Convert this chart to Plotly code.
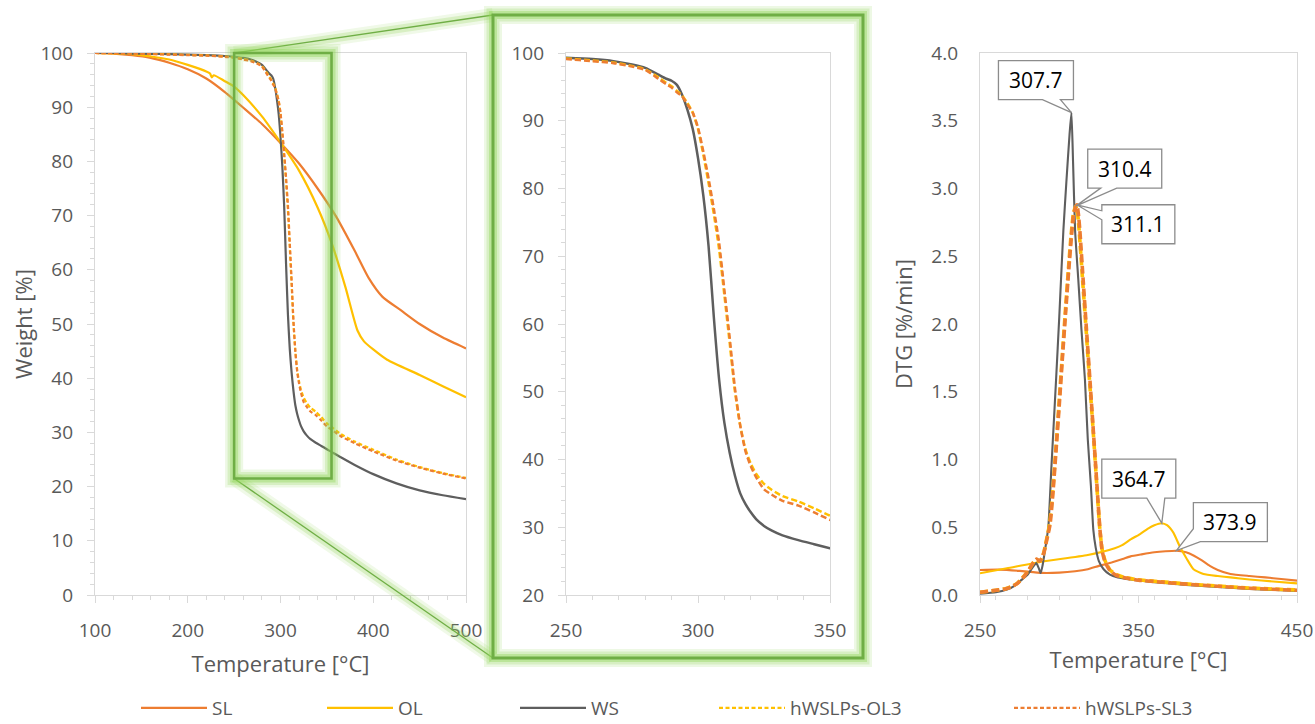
import numpy as np
import plotly.graph_objects as go

FONT = "Open Sans"

# ---------------- TGA data (Weight %) ----------------
T_sl = [100, 120, 140, 160, 180, 200, 220, 240, 260, 280, 300, 320, 340, 360, 380, 395, 410, 430, 450, 475, 500]
W_sl = [100, 99.9, 99.6, 99.1, 98.2, 97.0, 95.3, 92.8, 89.9, 86.9, 83.4, 79.6, 75.0, 69.8, 63.5, 58.5, 55.0, 52.5, 50.0, 47.5, 45.5]

T_ol = [100, 140, 180, 200, 220, 224, 226, 228, 240, 250, 260, 280, 300, 320, 340, 355, 370, 383, 390, 400, 415, 450, 475, 500]
W_ol = [100, 99.8, 98.8, 97.8, 96.6, 96.2, 95.5, 95.9, 94.8, 93.8, 92.2, 88.3, 83.5, 78.3, 71.5, 65.0, 56.8, 48.8, 46.8, 45.3, 43.4, 40.6, 38.5, 36.5]

T_tga = [100, 120, 140, 160, 180, 200, 220, 240, 250, 260, 268, 275, 280, 285, 288, 290,
         292, 294, 296, 298, 300, 302, 304, 306, 308, 310, 312, 314, 316, 318, 320, 322,
         325, 328, 332, 338, 344, 350, 355, 365, 380, 400, 425, 450, 475, 500]
W_ws = [100, 100.0, 99.9, 99.85, 99.8, 99.7, 99.6, 99.45, 99.3, 99.1, 98.8, 98.3, 97.8, 96.8, 96.2, 95.9,
        95.3, 93.8, 91.6, 88.8, 84.5, 79.0, 71.5, 61.0, 51.8, 45.4, 41.0, 37.6, 35.0, 33.4, 32.2, 31.2,
        30.2, 29.5, 28.8, 28.1, 27.5, 26.9, 26.4, 25.4, 24.0, 22.3, 20.6, 19.3, 18.4, 17.7]
W_ol3 = [100, 99.95, 99.9, 99.85, 99.75, 99.65, 99.55, 99.35, 99.2, 98.9, 98.6, 98.1, 97.6, 96.4, 95.6, 95.1,
         94.4, 93.7, 92.6, 91.2, 88.8, 85.0, 80.8, 76.2, 71.0, 64.2, 57.2, 50.0, 45.0, 41.5, 39.4, 37.9,
         36.4, 35.5, 34.6, 33.8, 32.8, 31.7, 31.0, 29.7, 28.3, 26.8, 25.0, 23.6, 22.5, 21.6]
W_sl3 = [100, 99.95, 99.9, 99.8, 99.7, 99.6, 99.5, 99.3, 99.1, 98.8, 98.5, 98.0, 97.5, 96.2, 95.4, 94.9,
         94.2, 93.6, 92.4, 91.2, 89.0, 85.5, 81.5, 77.0, 72.0, 65.0, 58.0, 50.5, 45.0, 41.2, 39.0, 37.4,
         35.6, 34.8, 33.9, 33.2, 32.2, 31.1, 30.5, 29.3, 28.0, 26.5, 24.8, 23.5, 22.4, 21.5]

# ---------------- DTG data (%/min) ----------------
T_d_sl = [250, 262, 275, 289, 300, 310, 318, 325, 333, 340, 345, 352, 360, 367, 373.9, 380, 385, 390, 395, 400, 408, 420, 430, 440, 450]
D_sl = [0.185, 0.187, 0.178, 0.163, 0.165, 0.175, 0.19, 0.215, 0.24, 0.265, 0.285, 0.30, 0.315, 0.323, 0.327, 0.315, 0.29, 0.255, 0.215, 0.185, 0.155, 0.14, 0.13, 0.118, 0.106]

T_d_ol = [250, 267, 289, 318, 335, 340, 345, 351, 356, 360, 364.7, 368, 372, 376, 380.5, 384.7, 391, 400, 408, 420, 435, 450]
D_ol = [0.16, 0.197, 0.246, 0.295, 0.345, 0.37, 0.41, 0.45, 0.49, 0.515, 0.53, 0.515, 0.46, 0.36, 0.266, 0.19, 0.155, 0.14, 0.13, 0.115, 0.10, 0.086]

T_d_ws = [250, 260, 267, 272, 276, 280, 283, 285.5, 287, 288.3, 289.5, 291, 293.1, 295, 296.5, 298, 300, 302.6,
          304.5, 306.5, 307.7, 308.7, 310, 312, 314, 316.2, 318, 320, 321.5, 323, 325, 328, 332, 337, 345,
          360, 380, 400, 420, 450]
D_ws = [0.01, 0.02, 0.04, 0.07, 0.11, 0.15, 0.2, 0.235, 0.2, 0.162, 0.22, 0.33, 0.5, 0.93, 1.26, 1.59, 2.05, 2.69,
        3.05, 3.40, 3.56, 3.2, 2.69, 2.33, 1.96, 1.59, 1.15, 0.80, 0.48, 0.35, 0.25, 0.19, 0.15, 0.13, 0.115,
        0.095, 0.075, 0.06, 0.045, 0.03]

T_d_ol3 = [250, 260, 266, 270, 274, 278, 281, 284, 285.6, 287.3, 289, 290.5, 292, 294, 296, 298, 300, 302, 304,
           306, 307.5, 309, 310.4, 311.5, 312.5, 315, 317, 319, 321, 323, 325.5, 327, 329, 332, 336, 342, 350,
           365, 380, 400, 420, 450]
D_ol3 = [0.02, 0.035, 0.047, 0.062, 0.092, 0.142, 0.19, 0.245, 0.262, 0.248, 0.27, 0.325, 0.41, 0.53, 0.78, 1.10,
         1.44, 1.78, 2.12, 2.44, 2.66, 2.82, 2.87, 2.82, 2.70, 2.28, 1.95, 1.60, 1.28, 0.93, 0.50, 0.34, 0.25,
         0.185, 0.15, 0.128, 0.112, 0.097, 0.082, 0.067, 0.052, 0.037]

T_d_sl3 = [250, 260, 266, 270, 274, 278, 281, 284, 285.8, 287.5, 289, 290.5, 292, 294.2, 296, 298, 300, 302, 304,
           306, 307.8, 309, 310.2, 311.1, 312, 313, 315, 317, 319.4, 321, 323, 325.7, 327, 329, 332, 336, 342,
           350, 365, 380, 400, 420, 450]
D_sl3 = [0.02, 0.035, 0.045, 0.06, 0.09, 0.14, 0.19, 0.245, 0.265, 0.25, 0.27, 0.32, 0.40, 0.52, 0.75, 1.07, 1.40,
         1.75, 2.08, 2.40, 2.66, 2.80, 2.86, 2.88, 2.82, 2.69, 2.34, 1.99, 1.58, 1.30, 0.95, 0.48, 0.33, 0.24,
         0.18, 0.145, 0.125, 0.11, 0.095, 0.08, 0.065, 0.05, 0.035]

# Peak temperatures labelled on the DTG panel
peak_labels = ["307.7", "310.4", "311.1", "364.7", "373.9"]
peak_T = [307.7, 310.4, 311.1, 364.7, 373.9]

names = ["SL", "OL", "WS", "hWSLPs-OL3", "hWSLPs-SL3"]
colors = ["#ED7D31", "#FFC000", "#5E5E5E", "#FFC000", "#ED7D31"]
dashed = [False, False, False, True, True]

tga = [(T_sl, W_sl), (T_ol, W_ol), (T_tga, W_ws), (T_tga, W_ol3), (T_tga, W_sl3)]
dtg = [(T_d_sl, D_sl), (T_d_ol, D_ol), (T_d_ws, D_ws), (T_d_ol3, D_ol3), (T_d_sl3, D_sl3)]

# ---------------- layout geometry (pixels) ----------------
W_FIG, H_FIG = 1315, 724
L, R, TOP, BOT = 95, 1297, 53, 595
PW, PH = R - L, BOT - TOP


def px_x(p):
    return (p - L) / PW


def px_y(p):
    return (BOT - p) / PH


dom1 = [px_x(95), px_x(466)]
dom2 = [px_x(566), px_x(830)]
dom3 = [px_x(980), px_x(1297)]

fig = go.Figure()

legend_ids = ["legend", "legend2", "legend3", "legend4", "legend5"]

for i in range(5):
    T, Wv = tga[i]
    fig.add_trace(go.Scatter(
        x=T, y=Wv, mode="lines", name=names[i], xaxis="x", yaxis="y",
        line=dict(color=colors[i], width=2.2, dash="4px,2.5px" if dashed[i] else "solid",
                  shape="spline", smoothing=0.6),
        showlegend=True, legend=legend_ids[i]))
for i in range(5):
    T, Wv = tga[i]
    if i < 2:
        continue
    fig.add_trace(go.Scatter(
        x=T, y=Wv, mode="lines", name=names[i], xaxis="x2", yaxis="y2",
        line=dict(color=colors[i], width=2.5, dash="6px,3px" if dashed[i] else "solid",
                  shape="spline", smoothing=0.6),
        showlegend=False))
for i in range(5):
    T, D = dtg[i]
    fig.add_trace(go.Scatter(
        x=T, y=D, mode="lines", name=names[i], xaxis="x3", yaxis="y3",
        line=dict(color=colors[i], width=3.6 if dashed[i] else 2.1,
                  dash="8px,3.5px" if dashed[i] else "solid",
                  shape="spline", smoothing=0.5),
        showlegend=False))

GRAY = "#D9D9D9"
TXT = "#595959"


def axis(domain, rng, dtick, minor_dtick, anchor, tick0, title=None, ticks=True, fmt=None,
         ylike=False, standoff=18):
    d = dict(domain=domain, range=rng, dtick=dtick, tick0=tick0, anchor=anchor,
             automargin=False,
             showline=True, linecolor=GRAY, linewidth=1.3, mirror=True,
             showgrid=False, zeroline=False,
             ticks="outside" if ticks else "", ticklen=7, tickwidth=1.3, tickcolor=GRAY,
             tickfont=dict(family=FONT, size=19, color=TXT),
             ticklabelstandoff=(10 if ticks else 17) if ylike else 11)
    if minor_dtick:
        d["minor"] = dict(ticks="outside", ticklen=4, tickwidth=1.1, tickcolor=GRAY,
                          dtick=minor_dtick, tick0=0, showgrid=False)
    if fmt:
        d["tickformat"] = fmt
    if title:
        d["title"] = dict(text=title, font=dict(family=FONT, size=22, color=TXT),
                          standoff=standoff)
    return d


fig.update_layout(
    width=W_FIG, height=H_FIG,
    margin=dict(l=L, r=W_FIG - R, t=TOP, b=H_FIG - BOT, autoexpand=False),
    paper_bgcolor="white", plot_bgcolor="white",
    font=dict(family=FONT, color=TXT),
    xaxis=axis(dom1, [100, 500], 100, 20, "y", 0, "Temperature [°C]", standoff=14),
    yaxis=axis([0, 1], [0, 100], 10, 2, "x", 0, "Weight [%]", ylike=True, standoff=1),
    xaxis2=axis(dom2, [250, 350], 50, 10, "y2", 0),
    yaxis2=axis([0, 1], [20, 100], 10, 2, "x2", 0, ylike=True),
    xaxis3=axis(dom3, [250, 450], 100, 20, "y3", 250, "Temperature [°C]", standoff=10),
    yaxis3=axis([0, 1], [0, 4], 0.5, None, "x3", 0, "DTG [%/min]", ticks=False, fmt=".1f",
                ylike=True, standoff=12),
    showlegend=True,
)

# ---------------- legends (five, spread along the bottom) ----------------
legend_px = [142, 328, 521, 720, 1015]
for i, lid in enumerate(legend_ids):
    fig.layout[lid] = dict(
        x=px_x(legend_px[i]) - 6 / PW, y=px_y(708), xanchor="left", yanchor="middle",
        orientation="h", itemwidth=66, bgcolor="rgba(0,0,0,0)",
        font=dict(family=FONT, size=19, color=TXT))

# ---------------- green zoom frames with glow ----------------
GREEN = "#6FAE45"
GLOW = "146,214,90"
rect_T = [250, 355]
rect_W = [21.5, 100]
xr0 = dom1[0] + (rect_T[0] - 100) / 400 * (dom1[1] - dom1[0])
xr1 = dom1[0] + (rect_T[1] - 100) / 400 * (dom1[1] - dom1[0])
yr0, yr1 = rect_W[0] / 100, rect_W[1] / 100
bx0, bx1 = px_x(493), px_x(863)
by0, by1 = px_y(658), px_y(15)


def glow(kind, x0, y0, x1, y1, core_w, glow_ws):
    for w, a in glow_ws:
        fig.add_shape(type=kind, xref="paper", yref="paper", x0=x0, y0=y0, x1=x1, y1=y1,
                      line=dict(color=f"rgba({GLOW},{a})", width=w), layer="above")
    fig.add_shape(type=kind, xref="paper", yref="paper", x0=x0, y0=y0, x1=x1, y1=y1,
                  line=dict(color=GREEN, width=core_w), layer="above")


rect_glow = [(18, 0.16), (13, 0.24), (8, 0.4)]
line_glow = [(14, 0.14), (8, 0.26)]
glow("line", xr0, yr1, bx0, by1, 1.3, line_glow)
glow("line", xr0, yr0, bx0, by0, 1.3, line_glow)
glow("rect", xr0, yr0, xr1, yr1, 2.6, rect_glow)
glow("rect", bx0, by0, bx1, by1, 3.0, rect_glow)

# ---------------- DTG peak callouts ----------------
callout_series = [2, 3, 4, 1, 0]
callout_paths = [
    "M-73,52 L2,52 L2,13 L-11,13 L0,0 L-29,13 L-73,13 Z",
    "M12,57 L86,57 L86,18 L41,18 L0,0 L25,18 L12,18 Z",
    "M25,0 L98,0 L98,-39 L25,-39 L25,-15 L0,0 L25,-6 Z",
    "M-60,64 L14,64 L14,25 L3,25 L0,0 L-15,25 L-60,25 Z",
    "M17,48 L91,48 L91,9 L24,9 L0,0 L17,22 Z",
]
callout_centers = [(-35.5, 32.5), (49, 37.5), (61.5, -19.5), (-23, 44.5), (54, 28.5)]
for k in range(5):
    T, D = dtg[callout_series[k]]
    t_pk = peak_T[k]
    d_pk = float(np.interp(t_pk, T, D))
    fig.add_shape(type="path", xref="x3", yref="y3", xsizemode="pixel", ysizemode="pixel",
                  xanchor=t_pk, yanchor=d_pk, path=callout_paths[k],
                  line=dict(color="#8C8C8C", width=1.3), fillcolor="white", layer="above")
    cx, cy = callout_centers[k]
    fig.add_annotation(x=t_pk, y=d_pk, xref="x3", yref="y3", text=peak_labels[k],
                       showarrow=False, xshift=cx, yshift=cy,
                       font=dict(family=FONT, size=21, color="black"))

fig.write_html("out.html", config={"displayModeBar": False},
               post_script="document.body.style.margin='0px';document.body.style.padding='0px';")
